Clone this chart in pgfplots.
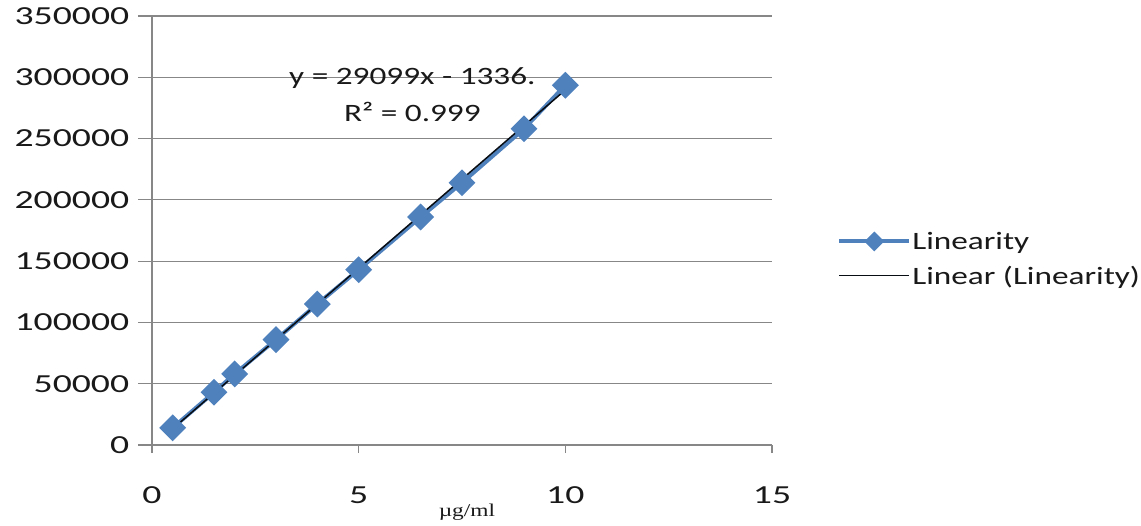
\documentclass[border=0pt]{standalone}
\usepackage{pgfplots}
\pgfplotsset{compat=1.18}
\usepackage{fontspec}
\setmainfont{Carlito}
\newfontfamily\tickfont[FakeStretch=1.45]{Carlito}
\newfontfamily\labfont[FakeStretch=1.33]{Carlito}
\newfontfamily\unitfont[FakeStretch=1.3]{Liberation Serif}
\definecolor{series}{HTML}{4F81BD}
\definecolor{gridc}{HTML}{878787}

\begin{document}
\begin{tikzpicture}
\useasboundingbox (-152pt,-80pt) rectangle (989pt,445pt);
\begin{axis}[
  at={(0pt,0pt)}, anchor=south west,
  scale only axis, width=620pt, height=429pt,
  xmin=0, xmax=15, ymin=0, ymax=350000,
  xtick={0,5,10,15}, ytick={0,50000,...,350000},
  scaled y ticks=false,
  yticklabel style={/pgf/number format/fixed, /pgf/number format/1000 sep={}, xshift=-15pt},
  /pgf/number format/assume math mode=true,
  axis x line=bottom, axis y line=left,
  axis line style={-, gridc, line width=1.2pt},
  ymajorgrids, major grid style={gridc, line width=1.2pt},
  tick align=outside,
  tick style={gridc, line width=1.2pt},
  xtick style={/pgfplots/major tick length=8pt},
  ytick style={/pgfplots/major tick length=14pt},
  ticklabel style={font=\tickfont\fontsize{26}{30}\selectfont, text=black!90},
  xticklabel style={yshift=-34pt},
  legend style={at={(1.105,0.434)}, anchor=west, draw=none, fill=none,
    inner sep=0pt, row sep=13pt,
    font=\labfont\fontsize{25}{29}\selectfont, text=black!90,
    nodes={inner sep=1pt}},
  legend cell align=left,
  legend image code/.code={\draw[mark repeat=2, mark phase=2, #1, mark size=5pt]
    plot coordinates {(0pt,0pt) (35pt,0pt) (70pt,0pt)};},
  clip=false
]
% Linearity data
\addplot[series, line width=4pt, mark=square*, mark size=7.5pt,
  mark options={rotate=45, solid, fill=series, draw=series}]
  coordinates {(0.5,14000) (1.5,43000) (2,58000) (3,86000) (4,115000)
    (5,143000) (6.5,186000) (7.5,214000) (9,258000) (10,293500)};
\addlegendentry{Linearity}
% linear trend line
\addplot[black!90!series, line width=1.5pt, no marks]
  coordinates {(0.5,13214) (10,289654)};
\addlegendentry{Linear (Linearity)}
\node[font=\labfont\fontsize{25}{29}\selectfont, text=black!90] at (axis cs:6.3,299000) {y = 29099x - 1336.};
\node[font=\labfont\fontsize{25}{29}\selectfont, text=black!90] at (axis cs:6.3,272000) {R² = 0.999};
\node[font=\unitfont\fontsize{18}{21}\selectfont, text=black!90] at (axis description cs:0.508,0) [yshift=-67pt] {µg/ml};
\end{axis}
\end{tikzpicture}
\end{document}
